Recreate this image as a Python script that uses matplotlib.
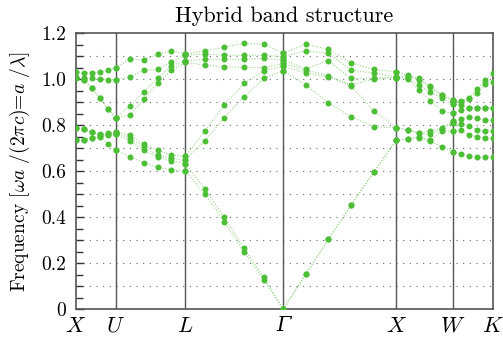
import matplotlib
matplotlib.use("Agg")
import matplotlib.pyplot as plt
import matplotlib.ticker as ticker
import numpy as np

# High-symmetry path of the fcc Brillouin zone (units of 2*pi/a)
point_labels = ["$X$", "$U$", "$L$", "\u0393", "$X$", "$W$", "$K$"]
corners = np.array([
    [0.0, 1.0, 0.0],
    [0.25, 1.0, 0.25],
    [0.5, 0.5, 0.5],
    [0.0, 0.0, 0.0],
    [0.0, 1.0, 0.0],
    [0.5, 1.0, 0.0],
    [0.75, 0.75, 0.0],
])

# normalised frequency at 6 k-points per segment, 8 bands each
seg_XU = [
    [0.735, 0.735, 0.789, 0.789, 1.007, 1.007, 1.010, 1.032],
    [0.735, 0.737, 0.781, 0.783, 0.995, 0.995, 1.003, 1.027],
    [0.742, 0.744, 0.768, 0.771, 0.962, 0.962, 1.003, 1.027],
    [0.750, 0.752, 0.758, 0.760, 0.916, 0.916, 1.000, 1.032],
    [0.720, 0.755, 0.760, 0.764, 0.870, 0.870, 0.997, 1.039],
    [0.691, 0.760, 0.765, 0.771, 0.833, 0.833, 0.998, 1.049],
]
seg_UL = [
    [0.691, 0.760, 0.765, 0.771, 0.833, 0.833, 0.998, 1.049],
    [0.662, 0.732, 0.745, 0.757, 0.843, 0.883, 1.010, 1.087],
    [0.636, 0.691, 0.705, 0.717, 0.912, 0.945, 1.039, 1.083],
    [0.616, 0.660, 0.670, 0.690, 0.981, 1.003, 1.042, 1.109],
    [0.605, 0.645, 0.655, 0.670, 1.039, 1.058, 1.075, 1.123],
    [0.602, 0.632, 0.648, 0.664, 1.073, 1.080, 1.105, 1.110],
]
seg_LG = [
    [0.602, 0.632, 0.648, 0.664, 1.073, 1.080, 1.105, 1.110],
    [0.500, 0.523, 0.732, 0.775, 1.061, 1.086, 1.109, 1.123],
    [0.380, 0.399, 0.833, 0.887, 1.054, 1.086, 1.104, 1.138],
    [0.249, 0.264, 0.923, 0.981, 1.051, 1.086, 1.104, 1.155],
    [0.128, 0.138, 1.003, 1.036, 1.050, 1.090, 1.104, 1.152],
    [0.000, 0.000, 1.036, 1.055, 1.068, 1.083, 1.098, 1.113],
]
seg_GX = [
    [0.000, 0.000, 1.036, 1.055, 1.068, 1.083, 1.098, 1.113],
    [0.152, 0.152, 0.974, 1.027, 1.040, 1.046, 1.123, 1.152],
    [0.303, 0.303, 0.897, 1.010, 1.015, 1.080, 1.112, 1.129],
    [0.452, 0.452, 0.836, 0.970, 0.975, 1.003, 1.039, 1.071],
    [0.596, 0.596, 0.793, 0.862, 1.000, 1.003, 1.027, 1.042],
    [0.735, 0.735, 0.789, 0.789, 1.007, 1.007, 1.010, 1.032],
]
seg_XW = [
    [0.735, 0.735, 0.789, 0.789, 1.007, 1.007, 1.010, 1.032],
    [0.739, 0.740, 0.778, 0.780, 1.000, 1.003, 1.015, 1.017],
    [0.746, 0.748, 0.764, 0.766, 0.952, 0.974, 0.995, 1.003],
    [0.730, 0.735, 0.761, 0.775, 0.906, 0.942, 0.965, 0.970],
    [0.706, 0.775, 0.783, 0.786, 0.862, 0.916, 0.930, 0.930],
    [0.685, 0.774, 0.810, 0.817, 0.851, 0.891, 0.906, 0.910],
]
seg_WK = [
    [0.685, 0.774, 0.810, 0.817, 0.851, 0.891, 0.906, 0.910],
    [0.673, 0.777, 0.807, 0.825, 0.865, 0.887, 0.900, 0.905],
    [0.665, 0.757, 0.796, 0.836, 0.875, 0.875, 0.914, 0.920],
    [0.660, 0.750, 0.778, 0.829, 0.875, 0.875, 0.938, 0.955],
    [0.660, 0.743, 0.774, 0.822, 0.875, 0.875, 0.977, 0.996],
    [0.663, 0.742, 0.776, 0.821, 0.875, 0.875, 0.989, 1.025],
]
segments = [seg_XU, seg_UL, seg_LG, seg_GX, seg_XW, seg_WK]

plt.rcParams["font.family"] = "cmr10"
plt.rcParams["mathtext.fontset"] = "cm"
plt.rcParams["axes.formatter.use_mathtext"] = True

green = "#4cbf36"
line_green = "#9ad98b"

# cumulative path length at each corner
steps = np.linalg.norm(np.diff(corners, axis=0), axis=1)
nodes = np.concatenate([[0], np.cumsum(steps)])

fig = plt.figure(figsize=(5.03, 3.45), dpi=100)
ax = fig.add_axes([0.151, 0.104, 0.829, 0.800])

for i, seg in enumerate(segments):
    freq = np.sort(np.array(seg), axis=1)
    k = np.linspace(nodes[i], nodes[i + 1], freq.shape[0])
    for b in range(freq.shape[1]):
        ax.plot(k, freq[:, b], ls=(0, (1, 1.5)), lw=0.8, color=line_green, zorder=2)
        ax.plot(k, freq[:, b], ls="none", marker="o", ms=4.3, color=green,
                markeredgewidth=0, zorder=3)

for x in nodes[1:-1]:
    ax.axvline(x, color="#555555", lw=1.0, zorder=1)

for y in np.arange(0.1, 1.15, 0.1):
    ax.axhline(y, color="#666666", lw=0.8, ls=(0, (1, 5)), zorder=0)

ax.set_xlim(nodes[0], nodes[-1])
ax.set_ylim(0, 1.2)
ax.set_xticks(nodes)
ax.set_xticklabels(point_labels, fontsize=16)
ax.get_xticklabels()[3].set_fontfamily("DejaVu Serif")
ax.get_xticklabels()[3].set_fontstyle("italic")
ax.get_xticklabels()[3].set_fontsize(15)
ax.tick_params(axis="x", length=0, pad=5)

ax.yaxis.set_major_locator(ticker.MultipleLocator(0.2))
ax.yaxis.set_minor_locator(ticker.MultipleLocator(0.05))
ax.yaxis.set_major_formatter(ticker.FuncFormatter(lambda v, p: "0" if v == 0 else f"{v:.1f}"))
ax.tick_params(axis="y", which="both", direction="in", length=5, width=1.0,
               color="#333333", labelsize=14, pad=7)
ax.tick_params(axis="y", which="major", length=6)

for s in ax.spines.values():
    s.set_color("#555555")
    s.set_linewidth(1.2)

ax.set_title("Hybrid band structure", fontsize=16, pad=8)
ax.set_ylabel(r"Frequency [$\omega a$ /(2$\pi c$)=$a$ /$\lambda$]", fontsize=14, labelpad=7)

fig.savefig("out.png", dpi=100, facecolor="white")
